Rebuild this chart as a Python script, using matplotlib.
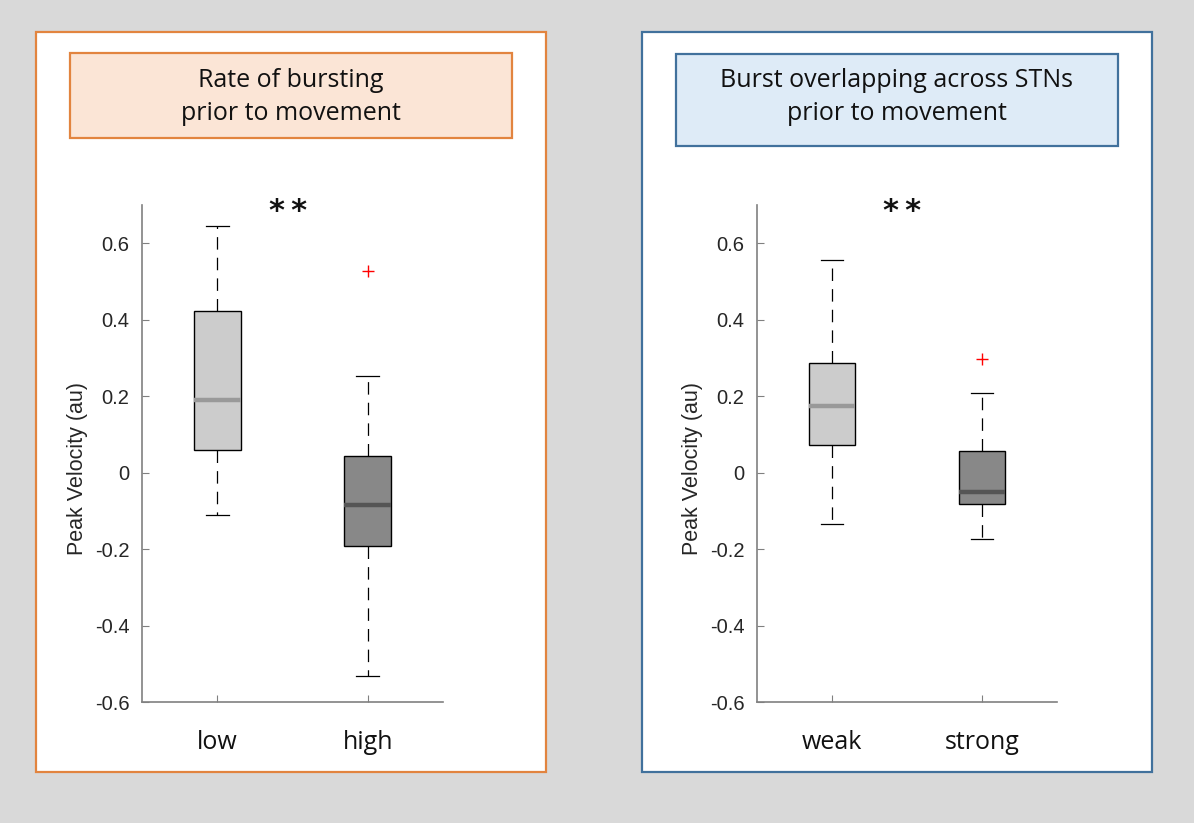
import matplotlib
matplotlib.use("Agg")
import matplotlib.pyplot as plt
from matplotlib.patches import Rectangle

# ---- data ----
left_title = "Rate of bursting\nprior to movement"
right_title = "Burst overlapping across STNs\nprior to movement"
left_cats = ["low", "high"]
right_cats = ["weak", "strong"]
# [whisker low, Q1, median, Q3, whisker high]
left_low = [-0.11, 0.058, 0.19, 0.423, 0.645]
left_high = [-0.532, -0.193, -0.085, 0.044, 0.253]
left_outliers = [[], [0.527]]
right_weak = [-0.134, 0.072, 0.173, 0.288, 0.557]
right_strong = [-0.173, -0.083, -0.052, 0.056, 0.207]
right_outliers = [[], [0.297]]
yticks = [-0.6, -0.4, -0.2, 0, 0.2, 0.4, 0.6]
ytick_labels = ["-0.6", "-0.4", "-0.2", "0", "0.2", "0.4", "0.6"]
ylabel = "Peak Velocity (au)"
sig_label = "*\u2009*"

W, H = 1194, 823
fig = plt.figure(figsize=(W / 100, H / 100), dpi=100)
fig.patch.set_facecolor("#d9d9d9")

def fx(px):
    return px / W

def fy(py):
    return 1 - py / H

def rect(x0, y0, x1, y1, fc, ec, lw):
    r = Rectangle((fx(x0), fy(y1)), fx(x1) - fx(x0), fy(y0) - fy(y1),
                  transform=fig.transFigure, facecolor=fc, edgecolor=ec,
                  linewidth=lw, zorder=0)
    fig.add_artist(r)

# panels
rect(36, 32, 546, 772, "white", "#e2843f", 1.6)
rect(642, 32, 1152, 772, "white", "#41719c", 1.6)
# title boxes
rect(70, 53, 512, 138, "#fbe5d6", "#e2843f", 1.6)
rect(676, 54, 1118, 146, "#deebf7", "#41719c", 1.6)
fig.text(fx(291), fy(97), left_title, ha="center", va="center",
         fontsize=18, family="Open Sans", linespacing=1.45, color="#111111")
fig.text(fx(897), fy(97), right_title, ha="center", va="center",
         fontsize=18, family="Open Sans", linespacing=1.45, color="#111111")

def make_stats(vals, outl):
    lo, q1, med, q3, hi = vals
    return dict(whislo=lo, q1=q1, med=med, q3=q3, whishi=hi, fliers=outl)

def draw(ax_rect, cats, series, outliers):
    ax = fig.add_axes(ax_rect)
    fills = ["#cccccc", "#888888"]
    meds = ["#999999", "#555555"]
    for i, (vals, outl) in enumerate(zip(series, outliers)):
        st = [make_stats(vals, outl)]
        ax.bxp(st, positions=[i + 1], widths=0.31, patch_artist=True,
               capwidths=0.15,
               boxprops=dict(facecolor=fills[i], edgecolor="black", linewidth=1.0),
               medianprops=dict(color=meds[i], linewidth=3.2),
               whiskerprops=dict(color="black", linewidth=0.9, linestyle=(0, (10, 6.5))),
               capprops=dict(color="black", linewidth=0.9),
               flierprops=dict(marker="+", markeredgecolor="red", markersize=8,
                               markeredgewidth=1.0, linestyle="none"))
    ax.set_xlim(0.5, 2.5)
    ax.set_ylim(-0.6, 0.7)
    ax.set_yticks(yticks)
    ax.set_yticklabels(ytick_labels)
    ax.set_xticks([1, 2])
    ax.set_xticklabels(cats, fontsize=18, family="Open Sans", color="#111111")
    for s in ["top", "right"]:
        ax.spines[s].set_visible(False)
    for s in ["left", "bottom"]:
        ax.spines[s].set_color("#808080")
        ax.spines[s].set_linewidth(1.2)
    ax.tick_params(axis="y", direction="in", length=5, color="#808080",
                   labelsize=14.5, labelcolor="#262626", pad=9)
    ax.tick_params(axis="x", direction="in", length=5, color="#808080", pad=20)
    for lab in ax.get_yticklabels():
        lab.set_family("Liberation Sans")
    ax.set_ylabel(ylabel, fontsize=15.5, family="Liberation Sans", color="#262626")
    ax.yaxis.set_label_coords(-0.18, 0.47)
    ax.text(1.47, 0.683, sig_label, ha="center", va="center", fontsize=22,
            fontweight="bold", color="#111111", family="DejaVu Sans")
    ax.set_facecolor("none")
    return ax

draw([fx(142), fy(702), fx(443) - fx(142), fy(205) - fy(702)],
     left_cats, [left_low, left_high], left_outliers)
draw([fx(757), fy(702), fx(1057) - fx(757), fy(205) - fy(702)],
     right_cats, [right_weak, right_strong], right_outliers)

fig.savefig("out.png", dpi=100, facecolor=fig.get_facecolor())
